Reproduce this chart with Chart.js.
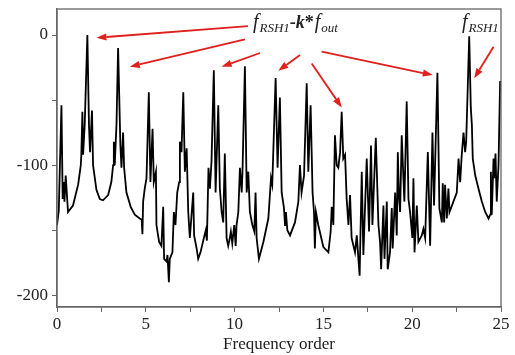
<!DOCTYPE html>
<html>
<head>
<meta charset="utf-8">
<script src="https://cdn.jsdelivr.net/npm/chart.js@4.4.1/dist/chart.umd.min.js"></script>
<style>
  body { margin: 0; background: #fff; }
  #wrap { width: 515px; height: 355px; }
</style>
</head>
<body>
<div id="wrap"><canvas id="spectrum" width="515" height="355"></canvas></div>
<script>
// frequency order (x) and amplitude in dB (y)
const orders = [
  0, 0.1, 0.25, 0.32, 0.38, 0.42, 0.49, 0.62, 0.9, 1.19, 1.34, 1.37, 1.43, 1.47, 1.56, 1.71,
  1.8, 1.86, 1.97, 2.03, 2.22, 2.41, 2.59, 2.88, 3.06, 3.16, 3.2, 3.25, 3.35, 3.44, 3.57, 3.63,
  3.72, 3.78, 3.91, 4.15, 4.38, 4.66, 4.77, 4.81, 4.85, 4.94, 5.04, 5.17, 5.26, 5.38, 5.45, 5.57,
  5.6, 5.75, 5.88, 5.98, 6.03, 6.17, 6.22, 6.3, 6.35, 6.5, 6.58, 6.67, 6.77, 6.88, 6.92, 7.01,
  7.11, 7.2, 7.3, 7.39, 7.48, 7.67, 7.72, 7.86, 7.95, 8.08, 8.27, 8.38, 8.44, 8.53, 8.61, 8.7,
  8.83, 8.93, 9.08, 9.17, 9.27, 9.36, 9.45, 9.55, 9.64, 9.73, 9.79, 9.87, 9.98, 10.06, 10.11, 10.21,
  10.3, 10.4, 10.45, 10.58, 10.68, 10.77, 10.86, 11.0, 11.11, 11.18, 11.24, 11.37, 11.62, 11.9, 12.05, 12.12,
  12.31, 12.42, 12.55, 12.65, 12.78, 12.84, 12.89, 12.97, 13.12, 13.4, 13.59, 13.68, 13.77, 13.91, 14.06, 14.15,
  14.28, 14.39, 14.47, 14.52, 14.58, 14.71, 15.0, 15.28, 15.41, 15.47, 15.56, 15.65, 15.75, 15.84, 15.94, 16.03,
  16.12, 16.22, 16.31, 16.41, 16.5, 16.59, 16.78, 16.88, 16.97, 17.04, 17.16, 17.25, 17.44, 17.57, 17.68, 17.76,
  17.95, 18.1, 18.19, 18.25, 18.38, 18.44, 18.57, 18.62, 18.75, 18.85, 18.9, 19.04, 19.13, 19.19, 19.26, 19.32,
  19.41, 19.5, 19.56, 19.69, 19.79, 19.88, 20.01, 20.07, 20.13, 20.26, 20.35, 20.54, 20.63, 20.73, 20.88, 21.01,
  21.14, 21.23, 21.42, 21.53, 21.67, 21.72, 21.8, 21.85, 21.95, 22.04, 22.1, 22.32, 22.51, 22.61, 22.7, 22.79,
  22.89, 22.98, 23.04, 23.21, 23.3, 23.36, 23.41, 23.55, 23.73, 23.92, 24.11, 24.3, 24.39, 24.43, 24.48, 24.58,
  24.63, 24.69, 24.76, 24.86, 24.95, 25
];
const amplitudes = [
  -146, -135, -54, -126, -113, -128, -108, -136, -131, -115, -100, -92, -59, -92, -69, 0,
  -69, -90, -58, -100, -119, -126, -127, -123, -113, -100, -82, -100, -69, -10, -85, -102,
  -75, -102, -121, -132, -138, -141, -142, -153, -128, -118, -110, -44, -113, -72, -113, -105,
  -146, -159, -162, -132, -172, -174, -169, -190, -172, -167, -136, -146, -121, -113, -82, -90,
  -44, -105, -87, -136, -156, -121, -154, -164, -172, -167, -156, -150, -158, -102, -118, -97,
  -27, -121, -54, -118, -136, -144, -91, -156, -162, -156, -151, -160, -146, -162, -146, -136,
  -102, -121, -102, -24, -121, -105, -136, -146, -151, -121, -156, -172, -159, -141, -110, -115,
  -33, -102, -48, -121, -133, -146, -136, -150, -154, -144, -128, -100, -121, -108, -37, -105,
  -54, -121, -136, -164, -136, -146, -163, -167, -151, -132, -146, -77, -100, -102, -90, -59,
  -95, -92, -126, -146, -123, -156, -167, -154, -172, -185, -105, -169, -95, -151, -85, -146,
  -79, -146, -159, -180, -131, -172, -128, -180, -167, -133, -164, -121, -154, -90, -126, -136,
  -77, -108, -128, -51, -126, -136, -156, -110, -167, -131, -159, -154, -149, -156, -90, -162,
  -75, -131, -29, -133, -144, -114, -144, -115, -141, -118, -136, -128, -121, -95, -113, -92,
  -75, -90, -82, -1, -56, -69, -95, -108, -118, -128, -136, -141, -138, -105, -138, -95,
  -110, -91, -128, -100, -36, -36
];

const xTicks = [0, 2.5, 5, 7.5, 10, 12.5, 15, 17.5, 20, 22.5, 25];
const xLabeled = [0, 5, 10, 15, 20, 25];
const yTicks = [-200, -150, -100, -50, 0];
const yLabeled = [-200, -100, 0];

// arrows in data units: [fromX, fromY, toX, toY]
const arrows = [
  [10.75, 6.9, 2.22, -2.1],
  [10.58, -3.3, 4.1, -24.4],
  [11.43, -13.8, 9.27, -24.4],
  [13.68, -15.4, 12.46, -27.5],
  [14.34, -21.8, 16.03, -55.6],
  [14.9, -12.8, 21.16, -30.8],
  [24.58, -9.0, 23.49, -33.3]
];

const points = orders.map((x, i) => ({ x: x, y: amplitudes[i] }));

const serif = "'Liberation Serif', 'Times New Roman', serif";

function drawRich(ctx, parts, x, y) {
  let cx = x;
  parts.forEach(p => {
    ctx.font = p.font;
    ctx.fillText(p.t, cx, y + (p.dy || 0));
    cx += ctx.measureText(p.t).width + (p.gap || 0);
  });
}

const annotate = {
  id: "annotate",
  afterDraw(chart) {
    const ctx = chart.ctx;
    const xs = chart.scales.x;
    const ys = chart.scales.y;
    const area = chart.chartArea;

    // frame
    ctx.save();
    ctx.strokeStyle = "#666";
    ctx.lineWidth = 1.3;
    ctx.strokeRect(area.left, area.top, area.right - area.left, area.bottom - area.top);

    // arrows
    ctx.strokeStyle = "#e0201c";
    ctx.fillStyle = "#e0201c";
    ctx.lineWidth = 1.8;
    arrows.forEach(a => {
      const x1 = xs.getPixelForValue(a[0]);
      const y1 = ys.getPixelForValue(a[1]);
      const x2 = xs.getPixelForValue(a[2]);
      const y2 = ys.getPixelForValue(a[3]);
      const ang = Math.atan2(y2 - y1, x2 - x1);
      const len = 10, half = 3.6;
      const bx = x2 - len * Math.cos(ang);
      const by = y2 - len * Math.sin(ang);
      ctx.beginPath();
      ctx.moveTo(x1, y1);
      ctx.lineTo(bx, by);
      ctx.stroke();
      ctx.beginPath();
      ctx.moveTo(x2, y2);
      ctx.lineTo(bx + half * Math.sin(ang), by - half * Math.cos(ang));
      ctx.lineTo(bx - half * Math.sin(ang), by + half * Math.cos(ang));
      ctx.closePath();
      ctx.fill();
    });

    // labels
    ctx.fillStyle = "#222";
    ctx.textBaseline = "alphabetic";
    ctx.textAlign = "left";
    const big = "italic 20px " + serif;
    const sub = "italic 13px " + serif;
    drawRich(ctx, [
      { t: "f", font: big, gap: 1 },
      { t: "RSH1", font: sub, dy: 4 },
      { t: "-", font: "bold 18px " + serif },
      { t: "k", font: "bold italic 18px " + serif },
      { t: "*", font: "bold 18px " + serif, gap: 1 },
      { t: "f", font: big, gap: 1 },
      { t: "out", font: sub, dy: 4 }
    ], xs.getPixelForValue(11.03), ys.getPixelForValue(5.4));
    drawRich(ctx, [
      { t: "f", font: big, gap: 1 },
      { t: "RSH1", font: sub, dy: 4 }
    ], xs.getPixelForValue(22.8), ys.getPixelForValue(5.4));
    ctx.restore();
  }
};

new Chart(document.getElementById("spectrum"), {
  type: "line",
  data: {
    datasets: [
      {
        data: points,
        borderColor: "#000",
        borderWidth: 1.8,
        pointRadius: 0,
        tension: 0,
        fill: false
      }
    ]
  },
  options: {
    responsive: false,
    animation: false,
    layout: { padding: { top: 9, right: 14, left: 0, bottom: 0 } },
    plugins: {
      legend: { display: false },
      tooltip: { enabled: false }
    },
    scales: {
      x: {
        type: "linear",
        min: 0,
        max: 25,
        afterBuildTicks: (scale) => {
          scale.ticks = xTicks.map(v => ({ value: v }));
        },
        afterFit: (scale) => {
          scale.height = 48;
          scale.paddingLeft = 0;
          scale.paddingRight = 0;
        },
        ticks: {
          autoSkip: false,
          maxRotation: 0,
          padding: 2,
          color: "#222",
          font: { family: serif, size: 17 },
          callback: (v) => (xLabeled.includes(v) ? String(v) : "")
        },
        grid: { drawOnChartArea: false, drawTicks: true, tickLength: 5, color: "#666" },
        border: { color: "#666", width: 1.3 },
        title: {
          display: true,
          text: "Frequency order",
          color: "#222",
          font: { family: serif, size: 17 },
          padding: { top: 0, bottom: 0 }
        }
      },
      y: {
        min: -209,
        max: 20,
        afterBuildTicks: (scale) => {
          scale.ticks = yTicks.map(v => ({ value: v }));
        },
        afterFit: (scale) => {
          scale.width = 57;
          scale.paddingTop = 0;
          scale.paddingBottom = 0;
        },
        ticks: {
          padding: 4,
          color: "#222",
          font: { family: serif, size: 17 },
          callback: (v) => (yLabeled.includes(v) ? String(v) : "")
        },
        grid: { drawOnChartArea: false, drawTicks: true, tickLength: 5, color: "#666" },
        border: { color: "#666", width: 1.3 }
      }
    }
  },
  plugins: [annotate]
});
</script>
</body>
</html>
